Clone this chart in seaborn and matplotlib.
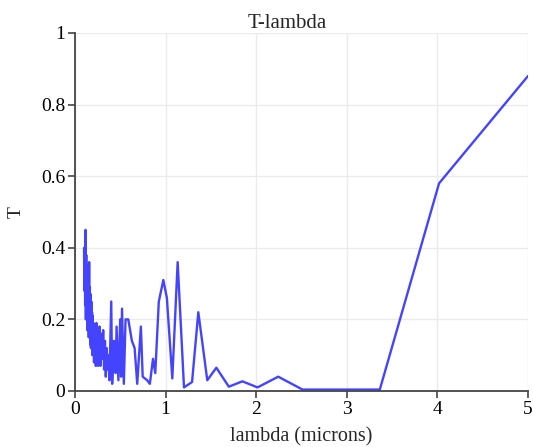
import numpy as np
import pandas as pd
import matplotlib
matplotlib.use("Agg")
import matplotlib.pyplot as plt
import seaborn as sns

# wavelength (microns) and transmittance
LAMBDA = [0.100, 0.104, 0.108, 0.112, 0.116, 0.120, 0.124, 0.128, 0.132, 0.136,
          0.140, 0.144, 0.148, 0.152, 0.156, 0.160, 0.164, 0.168, 0.172, 0.176,
          0.180, 0.184, 0.188, 0.192, 0.196, 0.200, 0.205, 0.210, 0.215, 0.220,
          0.225, 0.230, 0.236, 0.242, 0.248, 0.254, 0.260, 0.271, 0.281, 0.291,
          0.301, 0.311, 0.321, 0.331, 0.340, 0.350, 0.360, 0.370, 0.380, 0.400,
          0.410, 0.430, 0.449, 0.459, 0.479, 0.499, 0.509, 0.519, 0.539, 0.558,
          0.588, 0.628, 0.658, 0.687, 0.727, 0.747, 0.796, 0.826, 0.861, 0.886,
          0.925, 0.975, 1.014, 1.074, 1.133, 1.203, 1.292, 1.361, 1.460, 1.560,
          1.698, 1.847, 2.015, 2.243, 2.511, 3.364, 4.018, 5.000]
T = [0.40, 0.28, 0.39, 0.24, 0.45, 0.20, 0.38, 0.22, 0.35, 0.17,
     0.33, 0.19, 0.30, 0.15, 0.36, 0.16, 0.29, 0.13, 0.27, 0.12,
     0.25, 0.14, 0.22, 0.10, 0.21, 0.12, 0.19, 0.08, 0.18, 0.11,
     0.17, 0.07, 0.19, 0.09, 0.16, 0.07, 0.15, 0.18, 0.07, 0.16,
     0.09, 0.17, 0.06, 0.14, 0.04, 0.12, 0.06, 0.10, 0.03, 0.25,
     0.02, 0.14, 0.05, 0.18, 0.03, 0.20, 0.04, 0.23, 0.02, 0.20,
     0.20, 0.14, 0.12, 0.02, 0.18, 0.04, 0.03, 0.02, 0.09, 0.05,
     0.25, 0.31, 0.26, 0.035, 0.36, 0.01, 0.025, 0.22, 0.03, 0.065,
     0.012, 0.027, 0.01, 0.04, 0.004, 0.004, 0.58, 0.88]

XTICKS = [0, 1, 2, 3, 4, 5]
YTICKS = [0, 0.2, 0.4, 0.6, 0.8, 1]
YTICKLABELS = ["0", "0.2", "0.4", "0.6", "0.8", "1"]

sns.set_theme(style="whitegrid")
plt.rcParams["font.family"] = ["Liberation Serif", "DejaVu Serif"]

df = pd.DataFrame({"lambda": LAMBDA, "T": T})

fig = plt.figure(figsize=(5.33, 4.47), dpi=100)
ax = fig.add_axes([0.1407, 0.1253, 0.85, 0.8009])
sns.lineplot(data=df, x="lambda", y="T", ax=ax, sort=False, estimator=None,
             color="#3030ff", alpha=0.9, lw=1.7)

ax.set_xlim(0, 5); ax.set_ylim(0, 1)
ax.set_xticks(XTICKS); ax.set_xticklabels([str(v) for v in XTICKS])
ax.set_yticks(YTICKS); ax.set_yticklabels(YTICKLABELS)
ax.grid(True, color="#ebebeb", lw=1)
for s in ["top", "right"]:
    ax.spines[s].set_visible(False)
for s in ["left", "bottom"]:
    ax.spines[s].set_visible(True)
    ax.spines[s].set_color("#444444")
    ax.spines[s].set_linewidth(1.3)
ax.tick_params(axis="both", which="both", direction="out", length=5, width=1.2,
               color="#444444", labelsize=14, labelcolor="black", pad=2,
               left=True, bottom=True)
ax.set_title("T-lambda", fontsize=15, pad=3, x=0.469)
ax.set_xlabel("lambda (microns)", fontsize=14.5, labelpad=7)
ax.set_ylabel("T", fontsize=14, labelpad=12)

fig.savefig("out.png", dpi=100)
